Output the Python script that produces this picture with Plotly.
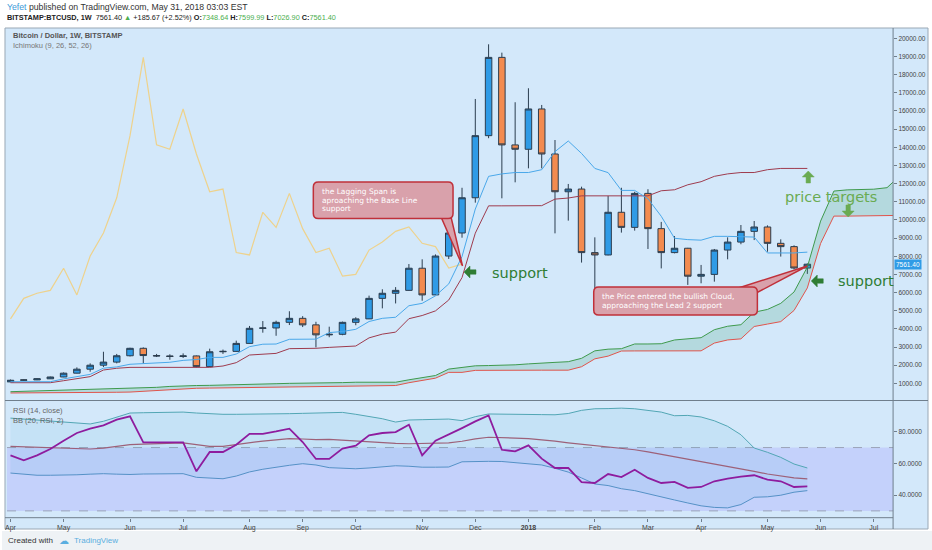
import pandas as pd
import plotly.graph_objects as go

# ---------------- data ----------------
weeks = pd.date_range("2017-04-03", periods=68, freq="7D")

open_ = [1080,1170,1190,1250,1350,1560,1780,2000,2170,2520,2930,2530,2510,2480,2510,1920,2740,2760,3200,4030,
         4050,4360,4580,4220,3670,3700,4360,4550,5680,5960,6120,7340,5870,8010,9280,11220,14640,18950,14130,13890,
         16110,13630,11550,11700,8200,8070,10420,9590,11460,9520,8200,8440,6900,7000,8340,8780,9370,9610,8710,8530,7348.64]
high = [1210,1210,1270,1370,1600,1880,2100,2740,2620,2960,2980,2620,2600,2650,2530,2910,2860,3350,4160,4430,
        4450,4970,4700,4390,4120,4400,4640,5830,6180,6300,7570,7830,8100,9300,11770,16660,19670,19210,16480,17250,
        16330,14400,11980,11830,9040,11320,11770,11550,11690,9890,9110,8460,7520,8400,9040,9720,9940,9700,8930,8600,7599.99]
low = [1070,1140,1180,1240,1340,1550,1640,1900,2100,2480,2100,2450,2300,2400,1880,1900,2620,2740,3190,3790,
       3620,4210,4100,2980,3540,3650,4200,4540,5130,5400,6100,5550,5860,7850,9020,10950,14500,11190,12070,12840,
       12840,9260,9960,7650,6000,8050,9300,9410,8400,7330,8160,6420,6510,6600,7830,8660,8890,8250,7980,7280,7026.90]
close = [1170,1190,1250,1350,1560,1780,2000,2170,2520,2930,2530,2510,2480,2510,1920,2740,2760,3200,4030,4050,
         4360,4580,4220,3670,3700,4360,4550,5680,5960,6120,7340,5870,8010,9280,11220,14640,18950,14130,13890,16110,
         13630,11550,11700,8200,8070,10420,9590,11460,9520,8200,8440,6900,7000,8340,8780,9370,9610,8710,8530,7350,7561.40]

conversion_line = [1090,1090,1090,1090,1245,1385,1495,1835,1905,2050,2080,2110,2160,2265,2310,2430,2430,2615,3020,3155,
                   3165,3425,3425,3435,3795,3855,3975,4405,4580,4640,5275,5405,5820,6475,7985,10600,12400,12535,12610,12610,
                   12765,13760,14345,13660,12835,12605,11625,11625,11165,10200,8990,8915,8885,9095,9095,9055,9055,8180,8180,8180,8225]
base_line = [1035,1035,1035,1035,1145,1260,1370,1735,1830,1880,1880,1880,1880,1880,1880,1880,1955,2140,2560,2610,
             2650,2910,2910,2930,2980,3020,3055,3505,3710,3820,4560,4735,4990,5590,6825,9270,10775,10775,10775,10775,
             10785,11145,11205,11325,11325,11325,11325,11325,11325,11605,11660,11935,12105,12400,12535,12610,12610,12765,12835,12835,12835]
lead_1 = [540,560,580,600,620,640,660,680,700,720,740,780,830,870,880,890,900,910,930,960,980,1000,1000,1010,1020,1040,
          1062,1062,1062,1062,1195,1322,1432,1785,1868,1965,1980,1995,2020,2072,2095,2155,2192,2378,2790,2882,
          2908,3168,3168,3182,3388,3438,3515,3955,4145,4230,4918,5070,5405,6032,7405,9935,11588,11655,11692,11692,11775,12452]
lead_2 = [470,470,470,480,480,490,500,500,510,520,560,620,680,720,730,740,750,760,770,780,
          790,800,805,810,815,820,830,840,850,880,1035,1175,1285,1605,1605,1715,1725,1725,1725,1725,
          1725,1725,1725,1915,2350,2500,2780,2785,2785,2785,2790,2790,2790,3218,3390,3450,4130,4265,4400,5015,
          6255,8705,10210,10210,10220,10230,10240,10250]
lagging_span = close[26:]          # close plotted 26 weeks back

rsi = [65.1,62.0,65.1,69.1,74.3,79.2,81.9,84.0,87.6,89.7,73.3,73.3,73.3,73.3,55.0,67.2,67.2,71.8,78.7,78.7,
       80.2,81.9,73.5,62.8,62.8,69.3,71.2,77.7,79.2,79.8,84.4,65.1,74.3,78.1,82.3,86.5,90.3,68.6,67.6,71.4,
       63.0,57.1,57.1,48.1,47.6,53.3,51.4,56.0,50.8,47.6,48.3,44.5,45.1,48.7,50.4,51.6,52.5,49.7,48.7,45.1,45.5]
bb_upper = [88.6,88.0,87.4,86.6,86.2,85.6,84.9,86.6,89.0,91.8,92.0,92.2,92.3,92.4,91.8,91.2,91.0,91.0,91.0,91.0,
            91.2,91.4,91.6,91.8,92.0,92.2,91.0,89.8,88.2,86.1,87.4,87.6,87.8,88.0,87.0,89.5,91.2,91.2,91.2,91.0,
            90.8,90.7,91.5,93.5,94.5,94.6,94.9,94.5,93.5,92.4,90.1,90.3,89.3,86.9,83.4,78.1,69.7,67.0,63.8,59.6,57.1]
bb_basis = [70.8,70.5,70.2,70.0,69.7,69.4,69.1,69.7,70.8,71.8,72.2,72.5,72.7,72.9,71.8,70.8,70.8,72.0,73.3,74.1,
            74.8,75.6,75.4,75.0,75.2,74.6,74.3,73.8,73.2,72.6,72.4,72.6,72.8,72.9,74.0,75.5,76.5,76.4,76.0,75.6,
            74.9,74.0,73.0,72.2,71.4,70.5,69.5,68.6,67.3,65.8,64.0,62.6,61.3,59.6,58.0,56.5,55.0,53.3,52.0,50.8,50.2]
bb_lower = [53.9,53.2,52.5,52.5,52.5,52.8,53.2,53.5,53.2,53.0,53.3,53.4,53.5,53.5,51.2,50.6,50.3,52.0,54.6,56.3,
            57.7,58.8,59.8,59.0,57.3,57.0,56.6,57.1,57.8,58.5,58.2,57.6,57.6,57.7,61.0,61.3,61.3,61.2,60.4,59.6,
            59.0,56.9,54.5,50.8,47.0,46.0,44.0,42.8,40.7,38.8,36.9,35.0,33.2,32.2,31.9,34.0,38.6,38.9,39.9,41.8,42.8]

price_ticks = list(range(1000, 20001, 1000))
price_ticktext = [f"{v}.00" for v in price_ticks]
rsi_ticks = [40, 60, 80]
rsi_ticktext = ["40.0000", "60.0000", "80.0000"]
month_ticks = ["2017-04-03","2017-05-01","2017-06-05","2017-07-03","2017-08-07","2017-09-04","2017-10-02",
               "2017-11-06","2017-12-04","2018-01-01","2018-02-05","2018-03-05","2018-04-02","2018-05-07",
               "2018-06-04","2018-07-02"]
month_text = ["Apr","May","Jun","Jul","Aug","Sep","Oct","Nov","Dec","<b>2018</b>","Feb","Mar","Apr","May","Jun","Jul"]
last_price = 7561.40

# ---------------- layout helpers (pixel -> paper) ----------------
W, H = 932, 550
def X(p): return p / W
def Y(p): return 1 - p / H

SANS = "Liberation Sans"
VER = "DejaVu Sans"
BG = "#d3e8fa"

fig = go.Figure()

n = len(close)
wk = weeks[:n]

# Ichimoku
fig.add_trace(go.Scatter(x=weeks, y=lead_2, mode="lines", line=dict(color="#e0544c", width=1),
                         xaxis="x", yaxis="y", hoverinfo="skip", showlegend=False))
fig.add_trace(go.Scatter(x=weeks, y=lead_1, mode="lines", line=dict(color="#3f9a4d", width=1),
                         fill="tonexty", fillcolor="rgba(60,160,110,0.20)",
                         xaxis="x", yaxis="y", hoverinfo="skip", showlegend=False))
fig.add_trace(go.Scatter(x=weeks[:len(lagging_span)], y=lagging_span, mode="lines",
                         line=dict(color="#eed28c", width=1.2), xaxis="x", yaxis="y",
                         hoverinfo="skip", showlegend=False))
fig.add_trace(go.Scatter(x=wk, y=base_line, mode="lines", line=dict(color="#9e3b4e", width=1),
                         xaxis="x", yaxis="y", hoverinfo="skip", showlegend=False))
fig.add_trace(go.Scatter(x=wk, y=conversion_line, mode="lines", line=dict(color="#4aa8ea", width=1),
                         xaxis="x", yaxis="y", hoverinfo="skip", showlegend=False))
fig.add_trace(go.Candlestick(x=wk, open=open_, high=high, low=low, close=close,
                             increasing=dict(fillcolor="#2f9be6", line=dict(color="#2b3d4f", width=1)),
                             decreasing=dict(fillcolor="#f38b4f", line=dict(color="#2b3d4f", width=1)),
                             whiskerwidth=0, xaxis="x", yaxis="y", hoverinfo="skip", showlegend=False))

# RSI + Bollinger
fig.add_trace(go.Scatter(x=wk, y=bb_upper, mode="lines", line=dict(color="#52a6b4", width=1),
                         xaxis="x2", yaxis="y2", hoverinfo="skip", showlegend=False))
fig.add_trace(go.Scatter(x=wk, y=bb_lower, mode="lines", line=dict(color="#5591c6", width=1),
                         fill="tonexty", fillcolor="rgba(40,160,200,0.08)",
                         xaxis="x2", yaxis="y2", hoverinfo="skip", showlegend=False))
fig.add_trace(go.Scatter(x=wk, y=bb_basis, mode="lines", line=dict(color="#9d6179", width=1.2),
                         xaxis="x2", yaxis="y2", hoverinfo="skip", showlegend=False))
fig.add_trace(go.Scatter(x=wk, y=rsi, mode="lines", line=dict(color="#8e1c9e", width=1.8),
                         xaxis="x2", yaxis="y2", hoverinfo="skip", showlegend=False))

xr = ["2017-04-01 03:50", "2018-07-12 04:50"]
xdom = [X(5), X(893)]
tickfont = dict(family=SANS, size=6.5, color="#444")

fig.update_layout(
    width=W, height=H, margin=dict(l=0, r=0, t=0, b=0, pad=0),
    paper_bgcolor="#ffffff", plot_bgcolor="rgba(0,0,0,0)", showlegend=False,
    xaxis=dict(domain=xdom, range=xr, type="date", anchor="y", showticklabels=False, showgrid=False,
               zeroline=False, rangeslider=dict(visible=False), fixedrange=True),
    yaxis=dict(domain=[Y(400), Y(29)], range=[83, 20513], side="right", anchor="x",
               tickvals=price_ticks, ticktext=price_ticktext, ticks="outside", ticklen=3,
               tickcolor="#6f7e8c", tickfont=tickfont, showgrid=False, zeroline=False),
    xaxis2=dict(domain=xdom, range=xr, type="date", anchor="y2", matches="x",
                tickvals=month_ticks, ticktext=month_text, ticks="outside", ticklen=3,
                tickcolor="#6f7e8c", tickfont=dict(family=SANS, size=7, color="#444"),
                showgrid=False, zeroline=False, rangeslider=dict(visible=False)),
    yaxis2=dict(domain=[Y(517.7), Y(401)], range=[25.7, 99.4], side="right", anchor="x2",
                tickvals=rsi_ticks, ticktext=rsi_ticktext, ticks="outside", ticklen=3,
                tickcolor="#6f7e8c", tickfont=tickfont, showgrid=False, zeroline=False),
)

shapes = []
# footer strip and chart panel background
shapes.append(dict(type="rect", xref="paper", yref="paper", x0=0, x1=1, y0=0, y1=Y(531),
                   fillcolor="#eef2f5", line=dict(width=0), layer="below"))
shapes.append(dict(type="rect", xref="paper", yref="paper", x0=X(3), x1=X(928), y0=Y(529), y1=Y(28),
                   fillcolor=BG, line=dict(color="#9aa8b5", width=1), layer="below"))
# RSI 30-70 band
shapes.append(dict(type="rect", xref="x2 domain", yref="y2", x0=0, x1=1, y0=30, y1=70,
                   fillcolor="rgba(140,120,255,0.20)", line=dict(width=0), layer="below"))
for lv in (30, 70):
    shapes.append(dict(type="line", xref="x2 domain", yref="y2", x0=0, x1=1, y0=lv, y1=lv,
                       line=dict(color="#9ba3b8", width=1, dash="dash"), layer="below"))
# frame lines
shapes.append(dict(type="line", xref="paper", yref="paper", x0=X(893), x1=X(893), y0=Y(529), y1=Y(28),
                   line=dict(color="#6f7e8c", width=1)))
shapes.append(dict(type="line", xref="paper", yref="paper", x0=X(3), x1=X(928), y0=Y(400.5), y1=Y(400.5),
                   line=dict(color="#6f7e8c", width=1)))
shapes.append(dict(type="line", xref="paper", yref="paper", x0=X(3), x1=X(893), y0=Y(517.7), y1=Y(517.7),
                   line=dict(color="#6f7e8c", width=1)))

def rrect_path(x0, y0, x1, y1, r):
    pts = [("M", x0 + r, y0), ("L", x1 - r, y0), ("Q", x1, y0, x1, y0 + r), ("L", x1, y1 - r),
           ("Q", x1, y1, x1 - r, y1), ("L", x0 + r, y1), ("Q", x0, y1, x0, y1 - r), ("L", x0, y0 + r),
           ("Q", x0, y0, x0 + r, y0)]
    s = ""
    for p in pts:
        cmd = p[0]
        coords = p[1:]
        pairs = []
        for k in range(0, len(coords), 2):
            pairs.append(f"{X(coords[k]):.5f},{Y(coords[k+1]):.5f}")
        s += cmd + " " + " ".join(pairs) + " "
    return s + "Z"

def poly_path(pts):
    s = "M " + " L ".join(f"{X(a):.5f},{Y(b):.5f}" for a, b in pts)
    return s + " Z"

CALL_FILL = "#d9a1ab"
CALL_LINE = "#c0303a"
# callout 1 (lagging span)
shapes.append(dict(type="path", xref="paper", yref="paper", path=poly_path([(440, 217), (450, 217), (461.5, 266)]),
                   fillcolor=CALL_FILL, line=dict(color=CALL_LINE, width=1.5)))
shapes.append(dict(type="path", xref="paper", yref="paper", path=rrect_path(312, 182, 452, 218.5, 5),
                   fillcolor=CALL_FILL, line=dict(color=CALL_LINE, width=1.5)))
# callout 2 (price in cloud)
shapes.append(dict(type="path", xref="paper", yref="paper", path=poly_path([(738, 288), (756, 293), (807, 266)]),
                   fillcolor=CALL_FILL, line=dict(color=CALL_LINE, width=1.5)))
shapes.append(dict(type="path", xref="paper", yref="paper", path=rrect_path(593, 287, 757, 315, 5),
                   fillcolor=CALL_FILL, line=dict(color=CALL_LINE, width=1.5)))

# block arrows (annotation markers)
DG = "#2f7d34"
LG = "#6aab52"
def block_arrow(tx, ty, direction, color, L=12, hw=6, sw=2.2, hl=6):
    # tip at (tx, ty); direction in {'left','up','down'}
    if direction == "left":
        pts = [(tx, ty), (tx + hl, ty - hw), (tx + hl, ty - sw), (tx + L, ty - sw),
               (tx + L, ty + sw), (tx + hl, ty + sw), (tx + hl, ty + hw)]
    elif direction == "up":
        pts = [(tx, ty), (tx + hw, ty + hl), (tx + sw, ty + hl), (tx + sw, ty + L),
               (tx - sw, ty + L), (tx - sw, ty + hl), (tx - hw, ty + hl)]
    else:
        pts = [(tx, ty), (tx + hw, ty - hl), (tx + sw, ty - hl), (tx + sw, ty - L),
               (tx - sw, ty - L), (tx - sw, ty - hl), (tx - hw, ty - hl)]
    shapes.append(dict(type="path", xref="paper", yref="paper", path=poly_path(pts),
                       fillcolor=color, line=dict(color=color, width=0.5)))
block_arrow(463, 272, "left", DG)
block_arrow(811, 281, "left", DG)
block_arrow(808, 171, "up", LG)
block_arrow(848, 217, "down", LG)
fig.update_layout(shapes=shapes)

ann = []
def txt(x, y, text, size, color, family=SANS, xanchor="left", yanchor="middle"):
    ann.append(dict(xref="paper", yref="paper", x=X(x), y=Y(y), text=text, showarrow=False,
                    xanchor=xanchor, yanchor=yanchor, font=dict(family=family, size=size, color=color)))

# header
txt(3, 7, "<span style='color:#3d9ad8'>Yefet</span> published on TradingView.com, May 31, 2018 03:03 EST",
    8.7, "#333")
G = "#4caf50"
txt(3, 18, "<b>BITSTAMP:BTCUSD, 1W</b>  7561.40 <span style='color:%s'>▲</span> +185.67 (+2.52%%) "
           "<b>O:</b><span style='color:%s'>7348.64</span> <b>H:</b><span style='color:%s'>7599.99</span> "
           "<b>L:</b><span style='color:%s'>7026.90</span> <b>C:</b><span style='color:%s'>7561.40</span>"
    % (G, G, G, G, G), 7.3, "#222")
# panel titles
txt(9, 35.5, "<b>Bitcoin / Dollar, 1W, BITSTAMP</b>", 7.5, "#555")
txt(9, 45.5, "Ichimoku (9, 26, 52, 26)", 7.5, "#777")
txt(9, 410.5, "RSI (14, close)", 7.5, "#666")
txt(9, 420.5, "BB (20, RSI, 2)", 7.5, "#666")
# footer
txt(4, 540, "Created with", 8, "#333")
txt(55, 540, "☁", 10, "#5aaee0", family=VER)
txt(70, 540, "TradingView", 8, "#5aaee0")
# callout texts
for yy, t in zip((191.7, 200, 208.3), ("the Lagging Span is", "aproaching the Base Line", "support")):
    txt(319, yy, t, 7.5, "#ffffff", family=VER)
for yy, t in zip((296.7, 305), ("the Price entered the bullish Cloud,", "approaching the Lead 2 support")):
    txt(599, yy, t, 7.5, "#ffffff", family=VER)
# green labels
txt(489, 272.7, "support", 14.5, DG, family=VER)
txt(836, 280.5, "support", 14.5, DG, family=VER)
txt(783, 196.7, "price targets", 14.5, LG, family=VER)

# last price label on the axis
ann.append(dict(xref="paper", yref="y", x=X(894), y=last_price, text="7561.40", showarrow=False,
                xanchor="left", yanchor="middle", bgcolor="#2f9be6", borderpad=1,
                font=dict(family=SANS, size=6.5, color="#ffffff")))
fig.update_layout(annotations=ann)

fig.write_html("out.html", config={"displayModeBar": False},
               post_script="document.body.style.margin='0';document.body.style.padding='0';")
